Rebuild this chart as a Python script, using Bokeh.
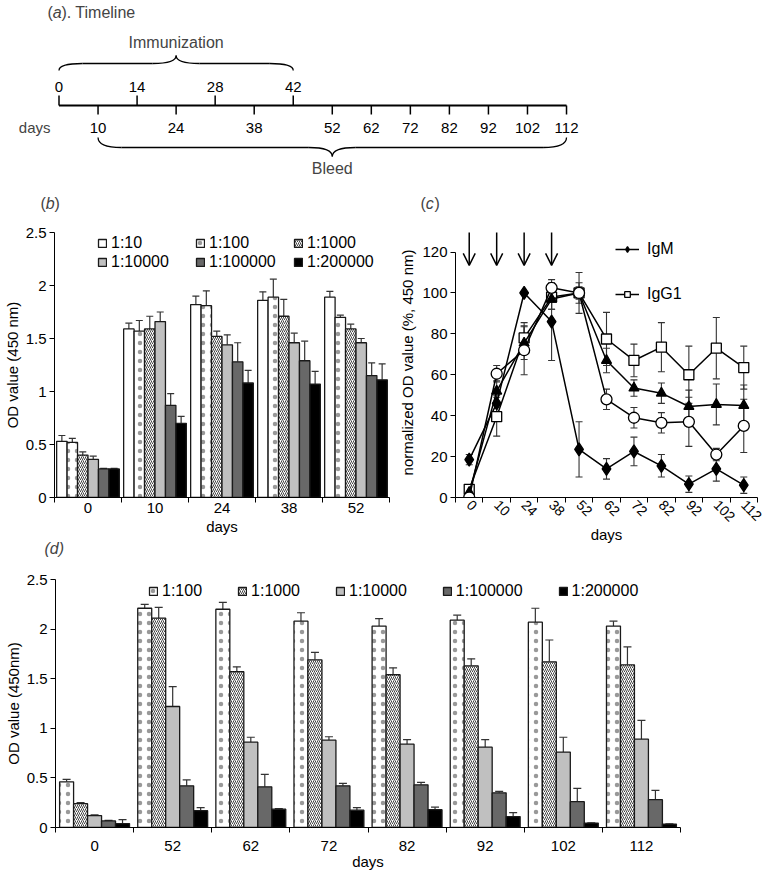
import math
from bokeh.plotting import figure
from bokeh.layouts import column, row
from bokeh.models import (Range1d, FixedTicker, CustomJSTickFormatter, Whisker, TeeHead,
                          ColumnDataSource, Legend, LegendItem, Label, Arrow, OpenHead, Title)
from bokeh.embed import file_html
from bokeh.resources import INLINE
from bokeh.core.properties import value

FONT = "Liberation Sans"

# ---------------- data ----------------
immunization_days = [0, 14, 28, 42]
bleed_days = [10, 24, 38, 52, 62, 72, 82, 92, 102, 112]

b_days = [0, 10, 24, 38, 52]
b_dilutions = ["1:10", "1:100", "1:1000", "1:10000", "1:100000", "1:200000"]
b_1_10 = [0.53, 1.59, 1.82, 1.86, 1.89]
b_1_100 = [0.52, 1.57, 1.81, 1.89, 1.70]
b_1_1000 = [0.40, 1.59, 1.52, 1.71, 1.59]
b_1_10000 = [0.36, 1.66, 1.44, 1.46, 1.46]
b_1_100000 = [0.27, 0.87, 1.28, 1.29, 1.15]
b_1_200000 = [0.27, 0.70, 1.08, 1.07, 1.11]
b_err_1_10 = [0.055, 0.055, 0.08, 0.08, 0.055]
b_err_1_100 = [0.037, 0.10, 0.14, 0.17, 0.02]
b_err_1_1000 = [0.03, 0.12, 0.05, 0.16, 0.045]
b_err_1_10000 = [0.03, 0.09, 0.095, 0.09, 0.04]
b_err_1_100000 = [0.005, 0.11, 0.18, 0.185, 0.12]
b_err_1_200000 = [0.005, 0.065, 0.12, 0.12, 0.15]
b_yticks = [0, 0.5, 1, 1.5, 2, 2.5]

c_days = [0, 10, 24, 38, 52, 62, 72, 82, 92, 102, 112]
c_arrow_days = [0, 10, 24, 38]
c_igm = [18.5, 46, 100, 86, 23.5, 14, 22.5, 15.5, 6.5, 14, 6]
c_igm_err = [2.5, 4, 0, 19, 13.5, 5, 7, 5.5, 4, 6, 4]
c_igg1 = [4, 39.5, 78, 98, 100, 77.5, 67, 73.5, 60, 73, 63.5]
c_igg1_err = [1, 9.5, 7.5, 6, 10, 13, 8, 12, 14, 15, 10.5]
c_tri = [2.5, 52, 75.5, 97, 100, 67, 53.5, 51, 44.5, 45.5, 45]
c_tri_err = [1, 5, 8, 5, 5, 6, 4, 5, 8, 10, 10]
c_circ = [0, 60.5, 72, 102.5, 100, 48, 39, 36.5, 37, 21, 35]
c_circ_err = [0.5, 4, 12, 4, 3, 5, 5, 5, 12, 3, 13]
c_yticks = [0, 20, 40, 60, 80, 100, 120]

d_days = [0, 52, 62, 72, 82, 92, 102, 112]
d_dilutions = ["1:100", "1:1000", "1:10000", "1:100000", "1:200000"]
d_1_100 = [0.46, 2.21, 2.20, 2.08, 2.03, 2.09, 2.07, 2.03]
d_1_1000 = [0.24, 2.11, 1.57, 1.69, 1.54, 1.63, 1.67, 1.64]
d_1_10000 = [0.12, 1.22, 0.86, 0.88, 0.84, 0.81, 0.76, 0.89]
d_1_100000 = [0.066, 0.42, 0.41, 0.42, 0.43, 0.35, 0.26, 0.28]
d_1_200000 = [0.04, 0.17, 0.185, 0.175, 0.18, 0.11, 0.045, 0.035]
d_err_1_100 = [0.025, 0.04, 0.07, 0.085, 0.075, 0.05, 0.14, 0.05]
d_err_1_1000 = [0.01, 0.11, 0.05, 0.075, 0.07, 0.07, 0.22, 0.18]
d_err_1_10000 = [0.007, 0.2, 0.05, 0.035, 0.045, 0.075, 0.15, 0.19]
d_err_1_100000 = [0.005, 0.06, 0.125, 0.025, 0.025, 0.015, 0.135, 0.095]
d_err_1_200000 = [0.04, 0.03, 0.005, 0.025, 0.025, 0.04, 0.003, 0.003]
d_yticks = [0, 0.5, 1, 1.5, 2, 2.5]

b_values = [b_1_10, b_1_100, b_1_1000, b_1_10000, b_1_100000, b_1_200000]
b_errors = [b_err_1_10, b_err_1_100, b_err_1_1000, b_err_1_10000, b_err_1_100000, b_err_1_200000]
d_values = [d_1_100, d_1_1000, d_1_10000, d_1_100000, d_1_200000]
d_errors = [d_err_1_100, d_err_1_1000, d_err_1_10000, d_err_1_100000, d_err_1_200000]

STYLES = {
    "1:10": dict(fill_color="white"),
    "1:100": dict(fill_color="white", hatch_pattern="dot", hatch_color="#999999",
                  hatch_scale=9, hatch_weight=0.8),
    "1:1000": dict(fill_color="white", hatch_pattern="right_diagonal_line", hatch_color="#444444",
                   hatch_scale=4, hatch_weight=1),
    "1:10000": dict(fill_color="#c0c0c0"),
    "1:100000": dict(fill_color="#686868"),
    "1:200000": dict(fill_color="#000000"),
}


def style_axes(p, tick_size="15px"):
    for ax in p.axis:
        ax.axis_line_color = "black"
        ax.major_tick_line_color = "black"
        ax.minor_tick_line_color = "black"
        ax.major_label_text_color = "black"
        ax.major_label_text_font = FONT
        ax.major_label_text_font_size = tick_size
        ax.axis_label_text_font = FONT
        ax.axis_label_text_font_size = "15px"
        ax.axis_label_text_font_style = "normal"
        ax.axis_label_text_color = "black"
    p.grid.visible = False
    p.outline_line_color = None


def style_title(t, offset, standoff):
    t.text_font = FONT
    t.text_font_size = "16px"
    t.text_font_style = "italic"
    t.align = "left"
    t.offset = offset
    t.standoff = standoff


def category_x_axis(p, days):
    n = len(days)
    p.xaxis.ticker = FixedTicker(ticks=list(range(n)), minor_ticks=[i - 0.5 for i in range(n + 1)])
    p.xaxis.major_label_overrides = {i: str(d) for i, d in enumerate(days)}
    p.xaxis.major_tick_out = 0
    p.xaxis.major_tick_in = 0
    p.xaxis.minor_tick_out = 5
    p.xaxis.minor_tick_in = 0
    p.xaxis.axis_label = "days"


def bar_panel(days, dilutions, values, errors, yticks, ylabel, width, height,
              borders, bar_w, cap):
    n = len(dilutions)
    p = figure(width=width, height=height, frame_align=False,
               x_range=Range1d(-0.5, len(days) - 0.5), y_range=Range1d(0, yticks[-1]),
               toolbar_location=None, output_backend="svg",
               min_border_left=borders[0], min_border_right=borders[1],
               min_border_top=borders[2], min_border_bottom=borders[3])
    items = []
    for j, dil in enumerate(dilutions):
        xs = [i + (j - (n - 1) / 2) * bar_w for i in range(len(days))]
        src = ColumnDataSource(dict(x=xs, top=values[j],
                                    upper=[v + e for v, e in zip(values[j], errors[j])]))
        r = p.vbar(x="x", top="top", bottom=0, width=bar_w, source=src,
                   line_color="#1a1a1a", line_width=1.3, **STYLES[dil])
        p.add_layout(Whisker(base="x", lower="top", upper="upper", source=src,
                             dimension="height", line_color="#333333", line_width=1.2,
                             lower_head=None,
                             upper_head=TeeHead(size=cap, line_color="#333333", line_width=1.2)))
        items.append(LegendItem(label=dil, renderers=[r]))
    category_x_axis(p, days)
    p.yaxis.ticker = FixedTicker(ticks=yticks)
    p.yaxis.formatter = CustomJSTickFormatter(code="return tick.toString();")
    p.yaxis.major_tick_out = 5
    p.yaxis.major_tick_in = 0
    p.yaxis.major_label_standoff = 3
    p.yaxis.axis_label = ylabel
    p.yaxis.axis_label_standoff = 2
    style_axes(p)
    return p, items


def legend_style(lg):
    lg.label_text_font = FONT
    lg.label_text_font_size = "16px"
    lg.label_text_color = "black"
    lg.glyph_width = 10
    lg.glyph_height = 10
    lg.label_standoff = 4
    lg.padding = 0
    lg.margin = 0
    lg.border_line_color = None
    lg.background_fill_alpha = 0


# ---------------- (a) timeline (also carries the (b) and (c) panel letters) ----------------
A_W, A_H = 769, 212
all_days = sorted(set(immunization_days + bleed_days))
slot = {d: i for i, d in enumerate(all_days)}
PPU = 39.04
X0 = 58.5
pA = figure(width=A_W, height=A_H, x_range=Range1d(-X0 / PPU, (A_W - X0) / PPU),
            y_range=Range1d(A_H, 0), toolbar_location=None, output_backend="svg",
            min_border=0, x_axis_location=None, y_axis_location=None, frame_align=False)
pA.grid.visible = False
pA.outline_line_color = None

Y_AX = 105
pA.line([slot[all_days[0]], slot[all_days[-1]]], [Y_AX, Y_AX], line_color="black", line_width=1.8)
imm_x = [slot[d] for d in immunization_days]
bl_x = [slot[d] for d in bleed_days]
pA.segment(x0=imm_x, y0=[Y_AX] * len(imm_x), x1=imm_x, y1=[Y_AX - 10] * len(imm_x),
           line_color="black", line_width=1.5)
pA.segment(x0=bl_x, y0=[Y_AX] * len(bl_x), x1=bl_x, y1=[Y_AX + 9] * len(bl_x),
           line_color="black", line_width=1.5)
txt = dict(text_font=value(FONT), text_font_size="15px", text_color="black",
           text_align="center", text_baseline="middle")
pA.text(x=imm_x, y=[Y_AX - 19] * len(imm_x), text=[str(d) for d in immunization_days], **txt)
pA.text(x=bl_x, y=[Y_AX + 22] * len(bl_x), text=[str(d) for d in bleed_days], **txt)
pA.add_layout(Label(x=slot[all_days[0]], y=Y_AX + 22, x_offset=-8.5, text="days",
                    text_font=FONT, text_font_size="15px", text_align="right",
                    text_baseline="middle"))


def brace(p, xa, xb, y_end, y_base, y_tip, r):
    xm = (xa + xb) / 2
    p.quadratic(x0=[xa, xm - r, xm, xb], y0=[y_end, y_base, y_tip, y_end],
                x1=[xa + r, xm, xm + r, xb - r], y1=[y_base, y_tip, y_base, y_base],
                cx=[xa, xm, xm, xb], cy=[y_base] * 4, line_color="black", line_width=1.3)
    p.segment(x0=[xa + r, xm + r], y0=[y_base] * 2, x1=[xm - r, xb - r], y1=[y_base] * 2,
              line_color="black", line_width=1.3)
    return xm


xm_imm = brace(pA, slot[immunization_days[0]], slot[immunization_days[-1]], 70, 63, 55, 0.6)
xm_bl = brace(pA, slot[bleed_days[0]], slot[bleed_days[-1]], 137, 147, 156, 0.6)
pA.add_layout(Label(x=xm_imm, y=42, text="Immunization", text_font=FONT, text_font_size="16px",
                    text_align="center", text_baseline="middle"))
pA.add_layout(Label(x=xm_bl, y=168, text="Bleed", text_font=FONT, text_font_size="16px",
                    text_align="center", text_baseline="middle"))


def panel_letter(p, x, y, base_offset, letter, after):
    parts = [("(", 0, "normal"), (letter, 5.3, "italic"), (after, 5.3 + 8.6, "normal")]
    for t, off, style in parts:
        p.add_layout(Label(x=x, y=y, x_offset=base_offset + off, text=t, text_font=FONT,
                           text_font_size="16px", text_font_style=style, text_align="left",
                           text_baseline="middle"))


panel_letter(pA, slot[all_days[0]], 12, -11.5, "a", "). Timeline")
panel_letter(pA, slot[all_days[0]], 203, -18.5, "b", ")")
panel_letter(pA, slot[all_days[0]], 203, 361.5, "c", ")")

ROW_H = 352

# ---------------- (b) ----------------
pB, b_items = bar_panel(b_days, b_dilutions, b_values, b_errors, b_yticks,
                        "OD value (450 nm)", 396, ROW_H, (52, 7, 20, 67), 0.156, 7)
pB.xaxis.major_label_standoff = 0
pB.xaxis.axis_label_standoff = 2
lgB = Legend(items=b_items, location=(43, 226), orientation="horizontal", ncols=3)
legend_style(lgB)
lgB.label_width = 84
lgB.label_height = 19
lgB.spacing = 0
pB.add_layout(lgB)
title_d = Title(text="(d)")
style_title(title_d, -10, 0)
pB.add_layout(title_d, "below")

# ---------------- (c) ----------------
pC = figure(width=373, height=ROW_H, x_range=Range1d(-0.5, len(c_days) - 0.5),
            y_range=Range1d(0, 132), toolbar_location=None, output_backend="svg",
            frame_align=False,
            min_border_left=57, min_border_right=12, min_border_top=15, min_border_bottom=67)
series = [("IgM", c_igm, c_igm_err, dict(marker="diamond", size=13, fill_color="black")),
          ("IgG1", c_igg1, c_igg1_err, dict(marker="square", size=10, fill_color="white")),
          ("IgG2a", c_tri, c_tri_err, dict(marker="triangle", size=10, fill_color="black")),
          ("IgG2b", c_circ, c_circ_err, dict(marker="circle", size=11, fill_color="white"))]
c_items = []
xi = list(range(len(c_days)))
for name, vals, errs, mk in series:
    src = ColumnDataSource(dict(x=xi, y=vals, lo=[v - e for v, e in zip(vals, errs)],
                                hi=[v + e for v, e in zip(vals, errs)]))
    pC.add_layout(Whisker(base="x", lower="lo", upper="hi", source=src, dimension="height",
                          line_color="#333333", line_width=1.1,
                          lower_head=TeeHead(size=7, line_color="#333333", line_width=1.1),
                          upper_head=TeeHead(size=7, line_color="#333333", line_width=1.1)))
for name, vals, errs, mk in series:
    src = ColumnDataSource(dict(x=xi, y=vals))
    ln = pC.line("x", "y", source=src, line_color="black", line_width=1.5)
    sc = pC.scatter("x", "y", source=src, line_color="black", line_width=1.3, **mk)
    if name in ("IgM", "IgG1"):
        c_items.append(LegendItem(label=name, renderers=[ln, sc]))
for d in c_arrow_days:
    i = c_days.index(d)
    pC.add_layout(Arrow(end=OpenHead(size=12, line_width=1.5, line_color="black"),
                        x_start=i, y_start=129.5, x_end=i, y_end=113.5,
                        line_width=1.5, line_color="black"))
category_x_axis(pC, c_days)
pC.xaxis.major_label_orientation = -math.pi / 4
pC.xaxis.major_label_standoff = 0
pC.xaxis.axis_label_standoff = -3
pC.yaxis.ticker = FixedTicker(ticks=c_yticks)
pC.yaxis.bounds = (c_yticks[0], c_yticks[-1])
pC.yaxis.major_tick_out = 5
pC.yaxis.major_tick_in = 0
pC.yaxis.major_label_standoff = 3
pC.yaxis.axis_label = "normalized OD value (%, 450 nm)"
pC.yaxis.axis_label_standoff = 3
style_axes(pC)
pC.xaxis.major_label_text_font_size = "14px"
lgC = Legend(items=c_items, location=(160, 194))
legend_style(lgC)
lgC.glyph_width = 24
lgC.glyph_height = 14
lgC.label_standoff = 8
lgC.spacing = 27
pC.add_layout(lgC)

# ---------------- (d) ----------------
pD, d_items = bar_panel(d_days, d_dilutions, d_values, d_errors, d_yticks,
                        "OD value (450nm)", 769, 879 - A_H - ROW_H, (55, 89, 15, 52), 0.179, 8)
pD.xaxis.major_label_standoff = 8
pD.xaxis.axis_label_standoff = -1
lgD = Legend(items=d_items, location=(93, 227), orientation="horizontal")
legend_style(lgD)
lgD.spacing = 35
pD.add_layout(lgD)

layout = column(pA, row(pB, pC), pD)
open("out.html", "w").write(file_html(layout, INLINE))
